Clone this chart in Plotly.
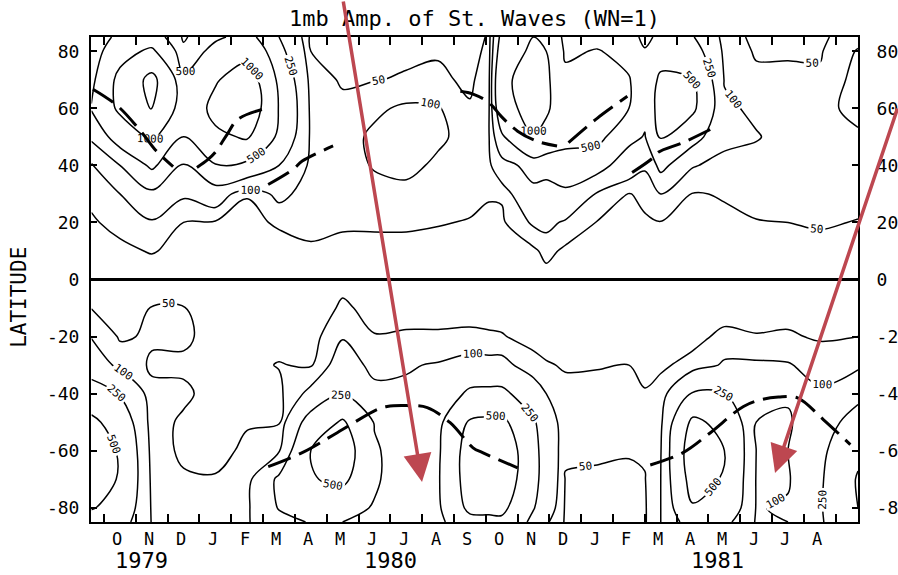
import plotly.graph_objects as go

# Latitude rows of the amplitude grid (deg), south to north
lat = [-85, -80, -70, -60, -50, -40, -30, -20, -10, 0, 10, 20, 30, 40, 50, 60, 70, 80, 85]

# Time of each column in months after 1 Oct 1979
month_index = [-0.4, 0.5, 1.5, 2.5, 3.5, 4.5, 5.5, 6.5, 7.5, 8.5, 9.5, 10.5, 11.5,
               12.1, 12.5, 13.5, 13.9, 14.5, 15.5, 16.5, 17.0, 17.5, 18.5, 19.5, 20.5,
               21.5, 22.5, 23.7]

# 1 mb geopotential amplitude of wavenumber 1 (m) at each time, from 85S to 85N
amp_1979_09b = [380, 520, 700, 750, 560, 330, 170, 95, 49, 8, 25, 42, 65, 85, 280, 520, 400, 300, 260]
amp_1979_10 = [330, 400, 470, 460, 380, 240, 75, 45, 30, 8, 35, 70, 100, 250, 650, 1100, 1150, 800, 600]
amp_1979_11 = [95, 90, 80, 70, 60, 58, 45, 55, 52, 8, 55, 90, 200, 550, 1100, 2050, 2300, 1100, 700]
amp_1979_12 = [70, 65, 55, 42, 46, 55, 45, 55, 52, 8, 30, 50, 110, 240, 500, 600, 550, 300, 220]
amp_1980_01 = [70, 65, 52, 42, 40, 40, 48, 40, 30, 8, 30, 45, 150, 480, 900, 1150, 950, 600, 450]
amp_1980_02 = [90, 85, 70, 55, 48, 42, 40, 35, 25, 8, 25, 40, 52, 400, 1050, 1400, 1300, 800, 600]
amp_1980_03 = [200, 260, 280, 90, 45, 40, 52, 35, 25, 8, 35, 55, 120, 250, 420, 480, 420, 300, 250]
amp_1980_04 = [260, 320, 480, 500, 330, 120, 45, 30, 20, 8, 45, 60, 70, 80, 85, 80, 70, 50, 40]
amp_1980_05 = [250, 300, 560, 650, 530, 240, 140, 95, 58, 35, 40, 55, 65, 75, 80, 60, 45, 35, 30]
amp_1980_06 = [200, 240, 270, 270, 240, 120, 80, 52, 35, 8, 40, 55, 80, 105, 110, 90, 48, 35, 30]
amp_1980_07 = [150, 160, 170, 170, 160, 110, 95, 55, 35, 8, 40, 55, 85, 115, 120, 110, 55, 40, 30]
amp_1980_08 = [200, 220, 230, 220, 200, 140, 105, 55, 35, 8, 38, 52, 75, 90, 110, 105, 60, 45, 35]
amp_1980_09 = [420, 560, 620, 620, 530, 280, 130, 55, 40, 8, 35, 48, 60, 75, 80, 55, 40, 35, 30]
amp_1980_10a = [440, 560, 660, 670, 550, 290, 125, 53, 40, 8, 35, 45, 52, 85, 95, 90, 80, 60, 55]
amp_1980_10b = [450, 560, 680, 700, 560, 290, 125, 52, 38, 8, 30, 42, 55, 170, 450, 800, 900, 700, 600]
amp_1980_11a = [200, 260, 300, 300, 270, 150, 60, 40, 30, 8, 40, 110, 200, 330, 980, 1200, 1200, 1100, 1000]
amp_1980_11b = [110, 150, 180, 180, 160, 100, 52, 40, 30, 30, 65, 120, 200, 300, 800, 1100, 1100, 1000, 900]
amp_1980_12 = [45, 45, 48, 55, 58, 56, 48, 35, 28, 8, 40, 90, 200, 420, 560, 600, 580, 450, 400]
amp_1981_01 = [40, 40, 45, 55, 60, 60, 48, 35, 25, 8, 35, 48, 90, 320, 580, 650, 620, 520, 400]
amp_1981_02 = [40, 42, 45, 52, 60, 55, 50, 35, 25, 8, 30, 42, 48, 150, 300, 500, 520, 400, 300]
amp_1981_03a = [45, 45, 48, 55, 58, 52, 42, 32, 25, 8, 30, 45, 60, 110, 240, 300, 300, 260, 220]
amp_1981_03b = [100, 100, 100, 95, 80, 62, 45, 35, 28, 8, 35, 48, 100, 300, 520, 620, 560, 350, 280]
amp_1981_04 = [350, 480, 600, 650, 550, 260, 60, 40, 30, 8, 30, 42, 48, 105, 320, 550, 500, 330, 260]
amp_1981_05 = [300, 420, 480, 500, 430, 250, 110, 58, 35, 8, 30, 45, 52, 80, 120, 115, 95, 80, 70]
amp_1981_06 = [90, 95, 95, 100, 100, 110, 110, 52, 35, 8, 30, 48, 65, 75, 105, 85, 60, 45, 40]
amp_1981_07 = [100, 110, 90, 100, 90, 110, 105, 55, 35, 8, 30, 50, 65, 70, 75, 75, 60, 45, 40]
amp_1981_08 = [230, 230, 220, 200, 160, 110, 75, 45, 30, 8, 35, 55, 65, 70, 75, 80, 58, 45, 40]
amp_1981_09 = [420, 500, 520, 450, 330, 200, 80, 50, 30, 8, 30, 48, 65, 60, 90, 120, 120, 105, 80]

contour_levels = [50, 100, 250, 500, 1000, 2000]

# Latitude of the amplitude maximum (dashed tracks)
nh_track_1_t = [-0.35, 0.44, 1.23, 1.6, 2.17]
nh_track_1_lat = [66.7, 60.7, 50.9, 45.6, 39.6]
nh_track_2_t = [2.92, 3.27, 3.49, 3.87, 4.2, 4.97]
nh_track_2_lat = [39.3, 42.1, 44.5, 50.9, 56.1, 59.6]
nh_track_3_t = [5.16, 5.94, 6.23, 7.2]
nh_track_3_lat = [33.3, 38.6, 41.5, 46.8]
nh_track_4_t = [11.2, 11.6, 12.1, 12.5, 13.0, 13.6, 14.24]
nh_track_4_lat = [66.0, 65.0, 62.0, 57.0, 52.0, 48.5, 46.8]
nh_track_5_t = [14.6, 15.5, 16.45]
nh_track_5_lat = [48.0, 56.5, 64.2]
nh_track_6_t = [16.6, 17.23, 17.42, 18.2, 19.06]
nh_track_6_lat = [37.5, 42.4, 44.6, 48.0, 52.6]
sh_track_1_t = [5.16, 6.23, 7.33, 8.58, 8.9, 9.5, 10.16, 10.88, 11.6, 11.9, 13.0]
sh_track_1_lat = [-65.6, -60.7, -53.7, -45.6, -44.5, -44.2, -44.9, -50.2, -59.0, -60.7, -66.0]
sh_track_2_t = [17.17, 18.2, 19.06, 20.1, 20.7, 21.2, 21.8, 22.6, 23.46]
sh_track_2_lat = [-65.0, -60.7, -53.7, -44.5, -42.0, -41.2, -41.5, -49.0, -57.9]

month_letters = ["O", "N", "D", "J", "F", "M", "A", "M", "J", "J", "A",
                 "S", "O", "N", "D", "J", "F", "M", "A", "M", "J", "J", "A"]
year_labels = ["1979", "1980", "1981"]
year_positions = [1.19, 9.0, 19.28]
lat_ticks = [-80, -60, -40, -20, 0, 20, 40, 60, 80]

FONT = "DejaVu Sans Mono"

columns = [amp_1979_09b, amp_1979_10, amp_1979_11, amp_1979_12, amp_1980_01, amp_1980_02,
           amp_1980_03, amp_1980_04, amp_1980_05, amp_1980_06, amp_1980_07, amp_1980_08,
           amp_1980_09, amp_1980_10a, amp_1980_10b, amp_1980_11a, amp_1980_11b, amp_1980_12,
           amp_1981_01, amp_1981_02, amp_1981_03a, amp_1981_03b, amp_1981_04, amp_1981_05,
           amp_1981_06, amp_1981_07, amp_1981_08, amp_1981_09]
z = [[col[i] for col in columns] for i in range(len(lat))]

fig = go.Figure()

# one trace per isoline so the levels can be unevenly spaced
for lev in contour_levels:
    fig.add_trace(go.Contour(
        x=month_index, y=lat, z=z,
        autocontour=False,
        contours=dict(start=lev, end=lev, size=1, coloring="lines", showlabels=True,
                      labelfont=dict(family=FONT, size=11, color="black")),
        line=dict(width=1.5, smoothing=1.0),
        colorscale=[[0, "black"], [1, "black"]],
        showscale=False, hoverinfo="skip",
    ))

tracks = [(nh_track_1_t, nh_track_1_lat), (nh_track_2_t, nh_track_2_lat),
          (nh_track_3_t, nh_track_3_lat), (nh_track_4_t, nh_track_4_lat),
          (nh_track_5_t, nh_track_5_lat), (nh_track_6_t, nh_track_6_lat),
          (sh_track_1_t, sh_track_1_lat), (sh_track_2_t, sh_track_2_lat)]
for t, la in tracks:
    fig.add_trace(go.Scatter(
        x=t, y=la, mode="lines", yaxis="y2",
        line=dict(color="black", width=3, dash="24px,9px", shape="spline"),
        showlegend=False, hoverinfo="skip",
    ))

# month letters and years under the time axis
for i, letter in enumerate(month_letters):
    fig.add_annotation(x=i + 0.42, y=-0.035, xref="x", yref="paper", text=letter,
                       showarrow=False, xanchor="center", yanchor="middle",
                       font=dict(family=FONT, size=17, color="black"))
for yr, pos in zip(year_labels, year_positions):
    fig.add_annotation(x=pos, y=-0.080, xref="x", yref="paper", text=yr,
                       showarrow=False, xanchor="center", yanchor="middle",
                       font=dict(family=FONT, size=22, color="black"))

fig.add_annotation(x=-0.094, y=0.464, xref="paper", yref="paper", text="LATITUDE",
                   textangle=-90, showarrow=False, xanchor="center", yanchor="middle",
                   font=dict(family=FONT, size=21, color="black"))

# red pointer arrows
ARROW = "#bd4750"
fig.add_annotation(x=0.4316, y=0.0825, xref="paper", yref="paper", text="",
                   showarrow=True, arrowhead=2, arrowsize=1.6, arrowwidth=3.5,
                   arrowcolor=ARROW, ax=-79, ay=-482)
fig.add_annotation(x=0.8918, y=0.101, xref="paper", yref="paper", text="",
                   showarrow=True, arrowhead=2, arrowsize=1.6, arrowwidth=3.5,
                   arrowcolor=ARROW, ax=123, ay=-366)

yaxis_common = dict(
    range=[-85, 85], tickvals=lat_ticks, ticktext=[str(v) for v in lat_ticks],
    ticks="inside", ticklen=6, tickwidth=1.5, tickcolor="black", automargin=False,
    showgrid=False, tickfont=dict(family=FONT, size=18, color="black"),
)

fig.update_layout(
    width=898, height=575,
    margin=dict(l=91, r=40, t=37, b=53, autoexpand=False),
    paper_bgcolor="white", plot_bgcolor="white",
    showlegend=False,
    title=dict(text="1mb Amp. of St. Waves (WN=1)", x=0.5, xref="paper",
               y=1 - 18 / 575, yref="container", yanchor="middle", xanchor="center",
               font=dict(family=FONT, size=22, color="black")),
    xaxis=dict(range=[-0.41, 23.7], tickvals=list(range(24)), ticks="inside", ticklen=8,
               tickwidth=1.5, tickcolor="black", showticklabels=False, showgrid=False,
               zeroline=False, showline=True, linecolor="black", linewidth=2,
               mirror="ticks", automargin=False),
    yaxis=dict(**yaxis_common, zeroline=True, zerolinecolor="black", zerolinewidth=2.5,
               showline=True, linecolor="black", linewidth=2, ticklabelstandoff=6),
    yaxis2=dict(**yaxis_common, overlaying="y", side="right", zeroline=False,
                showline=True, linecolor="black", linewidth=2, ticklabelstandoff=13,
                matches="y"),
)

fig.write_html("out.html")
